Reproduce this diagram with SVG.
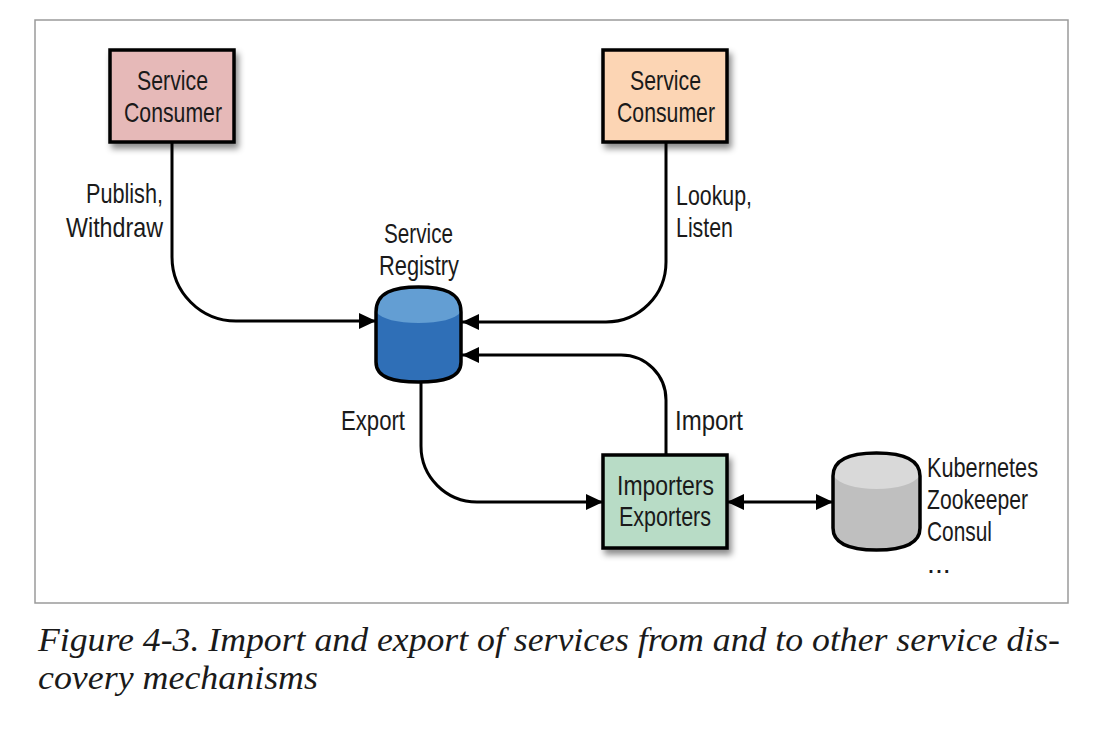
<svg xmlns="http://www.w3.org/2000/svg" width="1108" height="740" viewBox="0 0 1108 740">
<style>
.lbl{font-family:"Liberation Sans",Arial,sans-serif;font-size:28.5px;fill:#1a1a1a}
.box{stroke:#000;stroke-width:3.5}
.cyl{stroke:#000;stroke-width:3.5}
.conn{fill:none;stroke:#000;stroke-width:3}
.cap{font-family:"Liberation Serif","Times New Roman",serif;font-style:italic;font-size:34px;fill:#1a1a1a}
</style>
<defs>
<filter id="sh" x="-20%" y="-20%" width="150%" height="150%">
<feDropShadow dx="3" dy="5" stdDeviation="3" flood-color="#000" flood-opacity="0.45"/>
</filter>
<marker id="ah" markerUnits="userSpaceOnUse" markerWidth="18" markerHeight="18" refX="17" refY="8" orient="auto-start-reverse">
<path d="M0,0 L17,8 L0,16 Z" fill="#000"/>
</marker>
</defs>
<rect x="35" y="20" width="1033" height="583" fill="#fff" stroke="#9a9a9a" stroke-width="1.5"/>

<g id="connectors">
<path class="conn" d="M172,143 L172,257 A64,64 0 0 0 236,321 L376,321" marker-end="url(#ah)"/>
<path class="conn" d="M666,143 L666,262 A60,60 0 0 1 606,322 L462,322" marker-end="url(#ah)"/>
<path class="conn" d="M666,455 L666,400 A45,45 0 0 0 621,355 L462,355" marker-end="url(#ah)"/>
<path class="conn" d="M421,382 L421,446 A56,56 0 0 0 477,502 L603,502" marker-end="url(#ah)"/>
<path class="conn" d="M727,502 L833,502" marker-start="url(#ah)" marker-end="url(#ah)"/>
<text class="lbl" x="163" y="203" text-anchor="end" textLength="77" lengthAdjust="spacingAndGlyphs">Publish,</text>
<text class="lbl" x="163" y="237" text-anchor="end" textLength="97" lengthAdjust="spacingAndGlyphs">Withdraw</text>
<text class="lbl" x="676" y="205" textLength="76" lengthAdjust="spacingAndGlyphs">Lookup,</text>
<text class="lbl" x="676" y="237" textLength="57" lengthAdjust="spacingAndGlyphs">Listen</text>
<text class="lbl" x="341" y="430" textLength="64" lengthAdjust="spacingAndGlyphs">Export</text>
<text class="lbl" x="675" y="430" textLength="68" lengthAdjust="spacingAndGlyphs">Import</text>
</g>

<g id="consumer-left">
<rect class="box" x="110" y="50" width="124" height="92" fill="#e6b9b8" filter="url(#sh)"/>
<text class="lbl" x="137" y="90" textLength="71" lengthAdjust="spacingAndGlyphs">Service</text>
<text class="lbl" x="124" y="122" textLength="98" lengthAdjust="spacingAndGlyphs">Consumer</text>
</g>

<g id="consumer-right">
<rect class="box" x="603" y="50" width="124" height="92" fill="#fcd5b4" filter="url(#sh)"/>
<text class="lbl" x="630" y="90" textLength="71" lengthAdjust="spacingAndGlyphs">Service</text>
<text class="lbl" x="617" y="122" textLength="98" lengthAdjust="spacingAndGlyphs">Consumer</text>
</g>

<g id="registry">
<path d="M376,312 C376,292 394,287 418.5,287 C443,287 461,292 461,312 L461,362 C461,378 443,382 418.5,382 C394,382 376,378 376,362 Z" fill="#2f6fb7"/>
<path d="M376,312 C376,292 394,287 418.5,287 C443,287 461,292 461,312 C455,319 440,323 418.5,323 C397,323 382,319 376,312 Z" fill="#639ed3"/>
<path class="cyl" fill="none" d="M376,312 C376,292 394,287 418.5,287 C443,287 461,292 461,312 L461,362 C461,378 443,382 418.5,382 C394,382 376,378 376,362 Z"/>
<text class="lbl" x="384" y="243" textLength="69" lengthAdjust="spacingAndGlyphs">Service</text>
<text class="lbl" x="379" y="275" textLength="80" lengthAdjust="spacingAndGlyphs">Registry</text>
</g>

<g id="importers-exporters">
<rect class="box" x="603" y="455" width="124" height="93" fill="#b8dcc6" filter="url(#sh)"/>
<text class="lbl" x="617" y="495" textLength="97" lengthAdjust="spacingAndGlyphs">Importers</text>
<text class="lbl" x="619" y="526" textLength="92" lengthAdjust="spacingAndGlyphs">Exporters</text>
</g>

<g id="external">
<path d="M833,476 C833,458 852,453 876.5,453 C901,453 920,458 920,476 L920,528 C920,545 901,550 876.5,550 C852,550 833,545 833,528 Z" fill="#bfbfbf"/>
<path d="M833,476 C833,458 852,453 876.5,453 C901,453 920,458 920,476 C913,484 898,489 876.5,489 C855,489 840,484 833,476 Z" fill="#d9d9d9"/>
<path class="cyl" fill="none" d="M833,476 C833,458 852,453 876.5,453 C901,453 920,458 920,476 L920,528 C920,545 901,550 876.5,550 C852,550 833,545 833,528 Z"/>
<text class="lbl" x="927" y="477" textLength="111" lengthAdjust="spacingAndGlyphs">Kubernetes</text>
<text class="lbl" x="927" y="509" textLength="101" lengthAdjust="spacingAndGlyphs">Zookeeper</text>
<text class="lbl" x="927" y="541" textLength="65" lengthAdjust="spacingAndGlyphs">Consul</text>
<text class="lbl" x="927" y="573">...</text>
</g>

<g id="caption">
<text class="cap" x="38" y="651" textLength="1022" lengthAdjust="spacingAndGlyphs">Figure 4-3. Import and export of services from and to other service dis-</text>
<text class="cap" x="38" y="689" textLength="280" lengthAdjust="spacingAndGlyphs">covery mechanisms</text>
</g>
</svg>
